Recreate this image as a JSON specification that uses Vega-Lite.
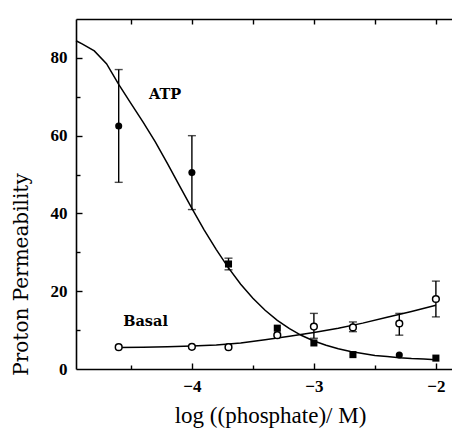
{
  "$schema": "https://vega.github.io/schema/vega-lite/v6.json",
  "width": 376,
  "height": 350,
  "autosize": {"type": "none"},
  "padding": {"left": 76, "top": 19, "right": 0, "bottom": 59},
  "background": "white",
  "config": {
    "view": {"stroke": null},
    "axis": {
      "grid": false,
      "domainColor": "black",
      "domainWidth": 1.6,
      "tickColor": "black",
      "tickWidth": 1.4,
      "labelColor": "black",
      "titleColor": "black"
    }
  },
  "datasets": {
    "atpCurve": [
      {"x": -4.95, "y": 84.4}, {"x": -4.9, "y": 83.6}, {"x": -4.8, "y": 81.8}, {"x": -4.7, "y": 78.5},
      {"x": -4.6, "y": 73.2}, {"x": -4.5, "y": 68.3}, {"x": -4.4, "y": 63.5}, {"x": -4.3, "y": 58.4},
      {"x": -4.2, "y": 52.8}, {"x": -4.1, "y": 47.0}, {"x": -4.0, "y": 41.3}, {"x": -3.9, "y": 35.8},
      {"x": -3.8, "y": 30.7}, {"x": -3.7, "y": 26.0}, {"x": -3.6, "y": 21.8}, {"x": -3.5, "y": 18.2},
      {"x": -3.4, "y": 15.1}, {"x": -3.3, "y": 12.5}, {"x": -3.2, "y": 10.4}, {"x": -3.1, "y": 8.6},
      {"x": -3.0, "y": 7.2}, {"x": -2.9, "y": 6.1}, {"x": -2.8, "y": 5.2}, {"x": -2.7, "y": 4.5},
      {"x": -2.6, "y": 4.0}, {"x": -2.5, "y": 3.5}, {"x": -2.4, "y": 3.2}, {"x": -2.3, "y": 2.9},
      {"x": -2.2, "y": 2.7}, {"x": -2.1, "y": 2.6}, {"x": -2.0, "y": 2.4}
    ],
    "basalCurve": [
      {"x": -4.6, "y": 5.5}, {"x": -4.4, "y": 5.6}, {"x": -4.2, "y": 5.7}, {"x": -4.0, "y": 5.9},
      {"x": -3.8, "y": 6.2}, {"x": -3.6, "y": 6.7}, {"x": -3.4, "y": 7.5}, {"x": -3.2, "y": 8.4},
      {"x": -3.0, "y": 9.4}, {"x": -2.8, "y": 10.5}, {"x": -2.6, "y": 11.8}, {"x": -2.4, "y": 13.3},
      {"x": -2.2, "y": 14.8}, {"x": -2.0, "y": 16.4}
    ],
    "atpPoints": [
      {"x": -4.6, "y": 62.5, "shape": "circle"},
      {"x": -4.0, "y": 50.5, "shape": "circle"},
      {"x": -3.7, "y": 27.0, "shape": "square"},
      {"x": -3.3, "y": 10.5, "shape": "square"},
      {"x": -3.0, "y": 6.7, "shape": "square"},
      {"x": -2.68, "y": 3.7, "shape": "square"},
      {"x": -2.3, "y": 3.6, "shape": "circle"},
      {"x": -2.0, "y": 2.8, "shape": "square"}
    ],
    "basalPoints": [
      {"x": -4.6, "y": 5.6},
      {"x": -4.0, "y": 5.7},
      {"x": -3.7, "y": 5.6},
      {"x": -3.3, "y": 8.7},
      {"x": -3.0, "y": 10.9},
      {"x": -2.68, "y": 10.7},
      {"x": -2.3, "y": 11.7},
      {"x": -2.0, "y": 18.0}
    ],
    "errors": [
      {"x": -4.6, "lo": 48, "hi": 77},
      {"x": -4.0, "lo": 41, "hi": 60},
      {"x": -3.7, "lo": 25.5, "hi": 28.5},
      {"x": -3.0, "lo": 7.9, "hi": 14.3},
      {"x": -2.68, "lo": 9.6, "hi": 12.1},
      {"x": -2.3, "lo": 8.7, "hi": 14.3},
      {"x": -2.0, "lo": 13.4, "hi": 22.6}
    ],
    "labels": [
      {"x": -4.22, "y": 70.5, "label": "ATP"},
      {"x": -4.38, "y": 12, "label": "Basal"}
    ]
  },
  "layer": [
    {
      "data": {"name": "atpCurve"},
      "mark": {"type": "line", "color": "black", "strokeWidth": 1.5},
      "encoding": {
        "x": {
          "field": "x", "type": "quantitative",
          "scale": {"domain": [-4.95, -1.868], "nice": false, "zero": false},
          "axis": {
            "orient": "bottom", "values": [-4, -3, -2], "ticks": false, "labelPadding": 9,
            "labelFont": "Liberation Serif", "labelFontWeight": "bold", "labelFontSize": 17,
            "title": "log ((phosphate)/ M)", "titleFont": "Liberation Serif", "titleFontWeight": "normal",
            "titleFontSize": 23, "titleX": 194, "titleY": 53, "titleBaseline": "alphabetic", "titleAlign": "center"
          }
        },
        "y": {
          "field": "y", "type": "quantitative",
          "scale": {"domain": [0, 90], "nice": false},
          "axis": {
            "orient": "left", "values": [0, 20, 40, 60, 80], "ticks": false, "labelPadding": 9,
            "labelFont": "Liberation Serif", "labelFontWeight": "bold", "labelFontSize": 17,
            "title": "Proton Permeability", "titleFont": "DejaVu Serif", "titleFontWeight": "normal",
            "titleFontSize": 20, "titleAngle": -90, "titleX": -49, "titleY": 255,
            "titleBaseline": "alphabetic", "titleAlign": "center"
          }
        }
      }
    },
    {
      "data": {"name": "basalCurve"},
      "mark": {"type": "line", "color": "black", "strokeWidth": 1.5},
      "encoding": {
        "x": {
          "field": "x", "type": "quantitative",
          "axis": {"orient": "top", "ticks": false, "labels": false, "title": null, "domain": true}
        },
        "y": {
          "field": "y", "type": "quantitative",
          "axis": {"orient": "left", "values": [20, 40, 60, 80], "labels": false, "title": null, "domain": false, "tickSize": 6, "offset": -6}
        }
      }
    },
    {
      "data": {"name": "errors"},
      "mark": {"type": "errorbar", "color": "black", "ticks": {"size": 8, "thickness": 1.4}, "rule": {"strokeWidth": 1.4}},
      "encoding": {
        "x": {
          "field": "x", "type": "quantitative",
          "axis": {"orient": "top", "values": [-4.5, -4, -3.5, -3, -2.5, -2], "labels": false, "title": null, "domain": false, "tickSize": 5, "offset": -5}
        },
        "y": {
          "field": "lo", "type": "quantitative",
          "axis": {"orient": "left", "values": [10, 30, 50, 70], "labels": false, "title": null, "domain": false, "tickSize": 4, "offset": -4}
        },
        "y2": {"field": "hi"}
      }
    },
    {
      "data": {"name": "atpPoints"},
      "mark": {"type": "point", "filled": true, "color": "black", "size": 50, "opacity": 1},
      "encoding": {
        "x": {
          "field": "x", "type": "quantitative",
          "axis": {"orient": "bottom", "values": [-4, -3, -2], "labels": false, "title": null, "domain": false, "tickSize": 6, "offset": -6}
        },
        "y": {"field": "y", "type": "quantitative", "axis": null},
        "shape": {"field": "shape", "type": "nominal", "scale": null}
      }
    },
    {
      "data": {"name": "basalPoints"},
      "mark": {"type": "point", "shape": "circle", "filled": false, "fill": "white", "stroke": "black", "strokeWidth": 1.5, "size": 45, "opacity": 1},
      "encoding": {
        "x": {
          "field": "x", "type": "quantitative",
          "axis": {"orient": "bottom", "values": [-4.5, -3.5, -2.5], "labels": false, "title": null, "domain": false, "tickSize": 4, "offset": -4}
        },
        "y": {"field": "y", "type": "quantitative", "axis": null}
      }
    },
    {
      "data": {"name": "labels"},
      "mark": {"type": "text", "font": "DejaVu Serif", "fontWeight": "bold", "fontSize": 14.5, "color": "black"},
      "encoding": {
        "x": {"field": "x", "type": "quantitative", "axis": null},
        "y": {"field": "y", "type": "quantitative", "axis": null},
        "text": {"field": "label"}
      }
    }
  ],
  "resolve": {"axis": {"x": "independent", "y": "independent"}}
}
